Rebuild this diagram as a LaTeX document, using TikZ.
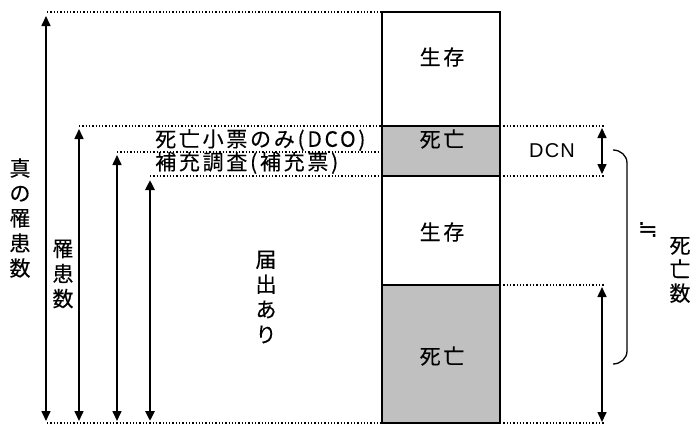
\documentclass[tikz,border=0pt]{standalone}
\usepackage{fontspec}
\setmainfont[FakeBold=0.3]{Noto Sans CJK JP}
\newfontfamily\jpwide[LetterSpace=13, FakeBold=0.3]{Noto Sans CJK JP}
\newfontfamily\latin[LetterSpace=6]{Liberation Sans}
\newfontfamily\symb{DejaVu Sans}
\usetikzlibrary{arrows.meta}
\definecolor{deadgray}{RGB}{192,192,192}
\tikzstyle{segment} = [draw=black, line width=1.5pt]
\tikzstyle{deadseg} = [segment, fill=deadgray]
\tikzstyle{level} = [dotted, line width=1.3pt]
\tikzstyle{arrow} = [line width=1.6pt, {Triangle[length=10pt,width=9pt]}-{Triangle[length=10pt,width=9pt]}]
\tikzstyle{thickarrow} = [arrow, line width=2.6pt]
\tikzstyle{jtext} = [inner sep=0pt, font=\jpwide\fontsize{21}{25}\selectfont]
\tikzstyle{vtext} = [inner sep=0pt, align=center, font=\fontsize{21}{25}\selectfont]

\begin{document}
\begin{tikzpicture}[x=1pt, y=-1pt]
\useasboundingbox (0,0) rectangle (691,426);

% Column of cases
\draw [segment] (382,12) rectangle (500,126);
\draw [deadseg] (382,126) rectangle (500,176);
\draw [segment] (382,176) rectangle (500,285);
\draw [deadseg] (382,285) rectangle (500,423);

\node (alive1) [jtext] at (442,57) {生存};
\node (dead1) [jtext] at (442,139) {死亡};
\node (alive2) [jtext] at (442,232) {生存};
\node (dead2) [jtext] at (442,356) {死亡};

% Levels
\coordinate (top) at (382,12);
\coordinate (dco) at (382,126);
\coordinate (sup) at (382,152);
\coordinate (reg) at (382,176);
\coordinate (bot) at (382,423);
\coordinate (dcoR) at (500,126);
\coordinate (regR) at (500,176);
\coordinate (deadR) at (500,285);
\coordinate (botR) at (500,423);

\draw [level] (47,12) -- (top);
\draw [level] (79,126) -- (dco);
\draw [level] (117,152) -- (sup);
\draw [level] (150,176) -- (reg);
\draw [level] (47,423) -- (bot);
\draw [level] (dcoR) -- (604,126);
\draw [level] (regR) -- (604,176);
\draw [level] (deadR) -- (604,285);
\draw [level] (botR) -- (604,423);

% Arrows on the left
\coordinate (trueT) at (46,16);
\coordinate (trueB) at (46,421);
\coordinate (incT) at (79,129);
\coordinate (incB) at (79,421);
\coordinate (supT) at (117,155);
\coordinate (supB) at (117,421);
\coordinate (regT) at (150,180);
\coordinate (regB) at (150,421);

\draw [arrow] (trueT) -- (trueB);
\draw [arrow] (incT) -- (incB);
\draw [arrow] (supT) -- (supB);
\draw [thickarrow] (regT) -- (regB);

\node (truecount) [vtext] at (20,218) {真\\の\\罹\\患\\数};
\node (inccount) [vtext] at (63,274) {罹\\患\\数};
\node (registered) [vtext] at (266,297) {届\\出\\あ\\り};
\node (dconly) [jtext, anchor=west] at (155,140) {死亡小票のみ(DCO)};
\node (supp) [jtext, anchor=west] at (155,163) {補充調査(補充票)};

% Arrows on the right
\coordinate (dcnT) at (602,128);
\coordinate (dcnB) at (602,174);
\coordinate (deathT) at (602,287);
\coordinate (deathB) at (602,422);

\draw [arrow] (dcnT) -- (dcnB);
\draw [arrow] (deathT) -- (deathB);
\node (dcn) [inner sep=0pt, font=\latin\fontsize{20}{22}\selectfont] at (552,151) {DCN};

% Bracket
\draw [line width=1.3pt] (613,150) to[out=0, in=90] (627,163) -- (627,351) to[out=-90, in=0] (613,364);
\node (approx) [inner sep=0pt, font=\symb\fontsize{24}{26}\selectfont] at (648,230) {≒};
\node (deaths) [vtext, font=\fontsize{21}{24}\selectfont] at (680,270) {死\\亡\\数};

\end{tikzpicture}
\end{document}
